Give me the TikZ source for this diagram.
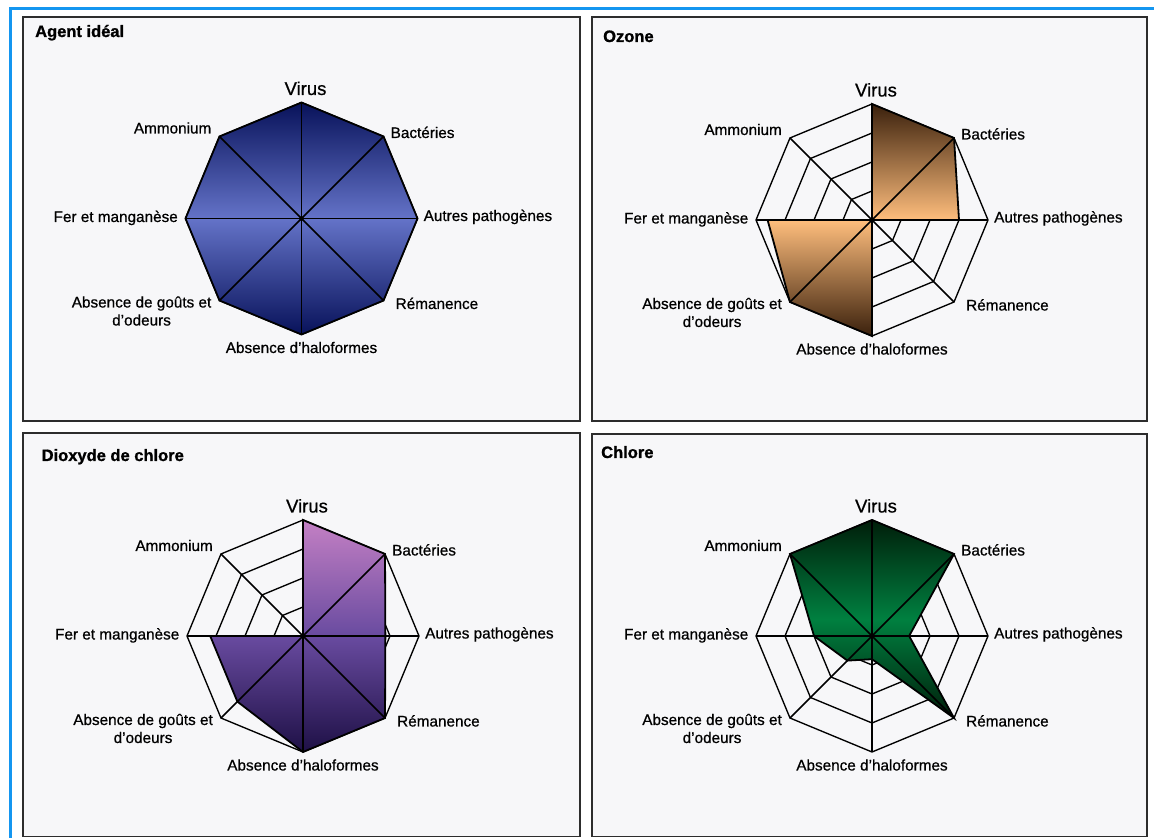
\documentclass[tikz,border=0pt]{standalone}
\usepackage{fontspec}
\setmainfont{Liberation Sans}
\newfontfamily\lblfont{Liberation Sans}[FakeBold=0.7]
\newfontfamily\ttlfont{Liberation Sans}[BoldFeatures={FakeBold=1.2}]
\definecolor{bluebar}{RGB}{20,150,240}
\definecolor{panelbg}{RGB}{247,247,249}
\definecolor{panelline}{RGB}{45,45,45}
\definecolor{navyD}{RGB}{8,18,90}
\definecolor{navyL}{RGB}{100,115,200}
\definecolor{brownD}{RGB}{58,32,12}
\definecolor{peach}{RGB}{255,190,125}
\definecolor{orchid}{RGB}{196,128,196}
\definecolor{purpM}{RGB}{105,75,160}
\definecolor{indigoD}{RGB}{30,16,70}
\definecolor{greenD}{RGB}{0,30,10}
\definecolor{greenM}{RGB}{0,128,64}

\newcommand\radargrid{%
  \foreach \f in {0.25,0.5,0.75,1}
    \draw[ring] (90:\f*116) \foreach \a in {45,0,-45,-90,-135,180,135}{ -- (\a:\f*116)} -- cycle;}
\newcommand\radaraxes{%
  \foreach \a in {90,45,0,-45,-90,-135,180,135} \draw[axisline] (0,0) -- (\a:116);
  \fill (0,0) circle (2.4);}
\newcommand\radarpoly[9]{%
  \draw[poly,#1] (90:#2*116) -- (45:#3*116) -- (0:#4*116) -- (-45:#5*116) -- (-90:#6*116)
     -- (-135:#7*116) -- (180:#8*116) -- (135:#9*116) -- cycle;}
\newcommand\radarlabels[1]{%
  \node[vlbl,anchor=base] (#1vir) at (4,123.5) {Virus};
  \node[lbl,anchor=base west] (#1bac) at (89,80.5) {Bactéries};
  \node[lbl,anchor=base west] (#1aut) at (122,-2.5) {Autres pathogènes};
  \node[lbl,anchor=base west] (#1rem) at (94,-90.5) {Rémanence};
  \node[lbl,anchor=base] (#1hal) at (0,-134.5) {Absence d’haloformes};
  \node[lbl,anchor=base east] (#1gou) at (-90,-89) {Absence de goûts et};
  \node[lbl,anchor=base] (#1odo) at ([yshift=-18pt]#1gou.base) {d’odeurs};
  \node[lbl,anchor=base east] (#1fer) at (-123.5,-3.5) {Fer et manganèse};
  \node[lbl,anchor=base east] (#1amm) at (-90,85) {Ammonium};}

\begin{document}
\begin{tikzpicture}[x=1pt,y=1pt,
  panel/.style={draw=panelline, line width=1.9pt, fill=panelbg},
  ring/.style={draw=black, line width=1.35pt, line join=miter},
  axisline/.style={draw=black, line width=1.5pt},
  poly/.style={draw=black, line width=1.8pt, line join=miter},
  lbl/.style={font=\lblfont\fontsize{15.3}{18}\selectfont, inner sep=0pt},
  vlbl/.style={font=\lblfont\fontsize{18.5}{22}\selectfont, inner sep=0pt},
  ttl/.style={font=\ttlfont\fontsize{16.5}{20}\selectfont\bfseries, inner sep=0pt, anchor=base west}]
\useasboundingbox (0,0) rectangle (1154,838);
\fill[white] (0,0) rectangle (1154,838);
\draw[bluebar, line width=3pt] (1154,829.5) -- (10,829.5) -- (10,0);

% panels
\draw[panel] (23,821) rectangle (580,417);
\draw[panel] (592,821) rectangle (1147,417);
\draw[panel] (23,405) rectangle (580,1.5);
\draw[panel] (592,404) rectangle (1147,1.5);

\node[ttl] (t1) at (35,801) {Agent idéal};
\node[ttl] (t2) at (603,796) {Ozone};
\node[ttl] (t3) at (41.5,377) {Dioxyde de chlore};
\node[ttl] (t4) at (601,380) {Chlore};

% Agent ideal
\begin{scope}[shift={(301.5,619.5)}]
  \radargrid
  \radarpoly{top color=navyD,bottom color=navyD,middle color=navyL}{1}{1}{1}{1}{1}{1}{1}{1}
  \radaraxes
  \radarlabels{a}
\end{scope}

% Ozone
\begin{scope}[shift={(872,618)}]
  \radargrid
  \radarpoly{top color=brownD,bottom color=brownD,middle color=peach}{1}{1}{0.75}{0}{1}{1}{0.9}{0}
  \radaraxes
  \radarlabels{o}
\end{scope}

% Dioxyde de chlore
\begin{scope}[shift={(303,202)}]
  \radargrid
  \radarpoly{top color=orchid,bottom color=indigoD,middle color=purpM}{1}{1}{0.71}{1}{1}{0.8}{0.8}{0}
  \radaraxes
  \radarlabels{d}
\end{scope}

% Chlore
\begin{scope}[shift={(872,202)}]
  \radargrid
  \radarpoly{top color=greenD,bottom color=greenD,middle color=greenM}{1}{1}{0.32}{1}{0.2}{0.3}{0.5}{1}
  \radaraxes
  \radarlabels{c}
\end{scope}
\end{tikzpicture}
\end{document}
